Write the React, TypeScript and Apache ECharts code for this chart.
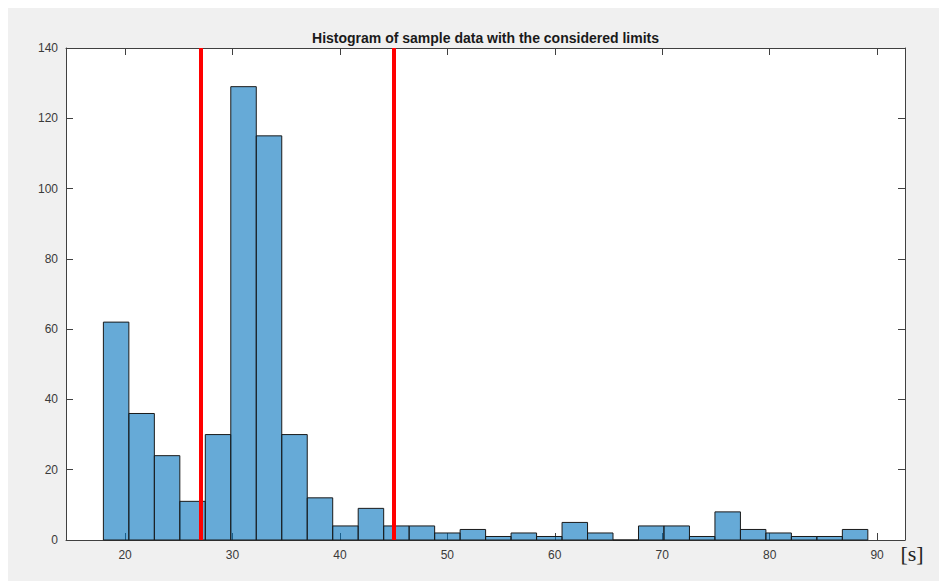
import React, { useEffect, useRef } from "react";
import * as echarts from "echarts";

// Histogram bin counts (left to right)
const counts = [62, 36, 24, 11, 30, 129, 115, 30, 12, 4, 9, 4, 4, 2, 3, 1, 2, 1, 5, 2, 0, 4, 4, 1, 8, 3, 2, 1, 1, 3];
// Histogram bin layout (data units, seconds)
const binStart = 17.98;
const binWidth = 2.372;
// Considered limits (red lines)
const limits = [27, 45];
// Axis ticks
const xTicks = [20, 30, 40, 50, 60, 70, 80, 90];
const yTicks = [0, 20, 40, 60, 80, 100, 120, 140];
const titleText = "Histogram of sample data with the considered limits";
const unitText = "[s]";

export default function App() {
  const ref = useRef<HTMLDivElement>(null);
  useEffect(() => {
    const chart = echarts.init(ref.current as HTMLDivElement, null, { renderer: "svg" });
    const data = counts.map((c, i) => [binStart + i * binWidth, binStart + (i + 1) * binWidth, c]);
    const axisColor = "#404040";
    const font = "Arial, 'Liberation Sans', Helvetica, sans-serif";
    const labelStyle = { color: "#3a3a3a", fontFamily: font, fontSize: 12 };
    const xBase = {
      type: "value",
      min: 14.5,
      max: 92.6,
      axisLine: { show: true, onZero: false, lineStyle: { color: axisColor, width: 1 } },
      axisTick: { show: true, inside: true, length: 7, customValues: xTicks, lineStyle: { color: axisColor } },
      splitLine: { show: false },
    };
    const yBase = {
      type: "value",
      min: 0,
      max: 140,
      axisLine: { show: true, onZero: false, lineStyle: { color: axisColor, width: 1 } },
      axisTick: { show: true, inside: true, length: 7, customValues: yTicks, lineStyle: { color: axisColor } },
      splitLine: { show: false },
    };
    chart.setOption({
      animation: false,
      backgroundColor: "#f0f0f0",
      grid: { left: 58, top: 40, width: 839, height: 492, show: true, backgroundColor: "#ffffff", borderWidth: 0 },
      xAxis: [
        { ...xBase, position: "bottom", axisLabel: { customValues: xTicks, margin: 9, ...labelStyle } },
        { ...xBase, position: "top", axisLabel: { show: false } },
      ],
      yAxis: [
        { ...yBase, position: "left", axisLabel: { customValues: yTicks, margin: 8, ...labelStyle } },
        { ...yBase, position: "right", axisLabel: { show: false } },
      ],
      series: [
        {
          type: "custom",
          xAxisIndex: 0,
          yAxisIndex: 0,
          data,
          encode: { x: [0, 1], y: 2 },
          renderItem: (params: any, api: any) => {
            const s = api.coord([api.value(0), api.value(2)]);
            const e = api.coord([api.value(1), 0]);
            return {
              type: "rect",
              shape: { x: s[0], y: s[1], width: e[0] - s[0], height: e[1] - s[1] },
              style: { fill: "rgba(0,114,189,0.6)", stroke: "#1a1a1a", lineWidth: 1 },
            };
          },
        },
        {
          type: "line",
          xAxisIndex: 0,
          yAxisIndex: 0,
          data: [],
          markLine: {
            silent: true,
            symbol: ["none", "none"],
            label: { show: false },
            lineStyle: { color: "#ff0000", width: 4, type: "solid" },
            data: limits.map((v) => ({ xAxis: v })),
          },
        },
      ],
      graphic: [
        {
          type: "text",
          x: 477.5,
          y: 29.5,
          style: {
            text: titleText,
            fill: "#1a1a1a",
            font: `bold 14px ${font}`,
            textAlign: "center",
            textVerticalAlign: "middle",
          },
        },
        {
          type: "text",
          x: 904,
          y: 545,
          style: {
            text: unitText,
            fill: "#222222",
            font: "22px 'Liberation Serif', 'Times New Roman', serif",
            textAlign: "center",
            textVerticalAlign: "middle",
          },
        },
      ],
    });
    return () => chart.dispose();
  }, []);
  return <div ref={ref} style={{ position: "absolute", left: 8, top: 8, width: 931, height: 573 }} />;
}
